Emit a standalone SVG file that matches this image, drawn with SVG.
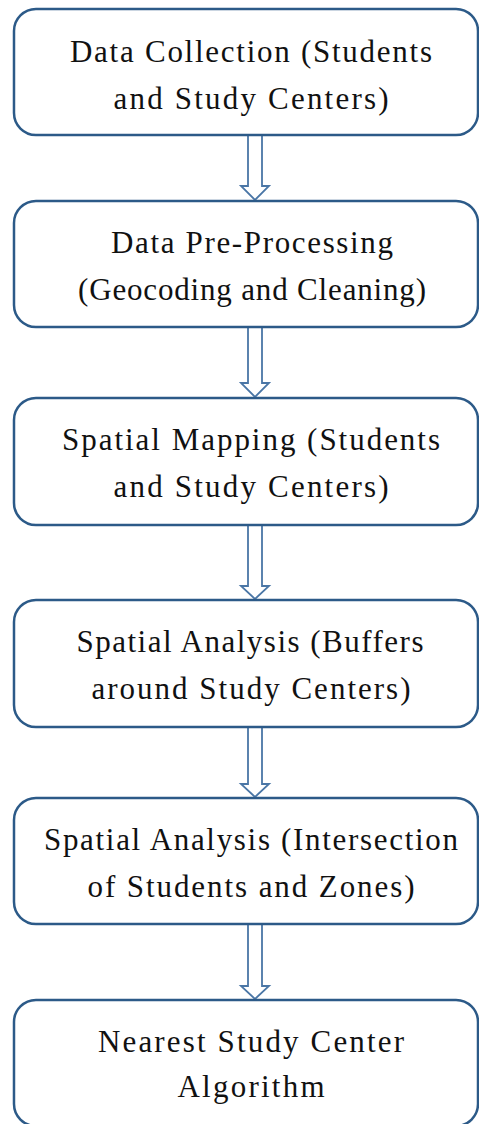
<svg xmlns="http://www.w3.org/2000/svg" width="479" height="1124" viewBox="0 0 479 1124">
<style>
.box{fill:#fff;stroke:#2c5a88;stroke-width:2.5}
.t{font-family:"Liberation Serif","DejaVu Serif",serif;font-size:31px;fill:#111;text-anchor:middle}
.arr{fill:#fff;stroke:#4a76a6;stroke-width:1.8;stroke-linejoin:miter}
</style>
<rect width="479" height="1124" fill="#fff"/>
<g id="connectors">
<path class="arr" d="M248,135 H262 V186 H269 L255,200 L241,186 H248 Z"/>
<path class="arr" d="M248,327 H262 V383 H269 L255,397 L241,383 H248 Z"/>
<path class="arr" d="M248,525 H262 V586 H269 L255,599 L241,586 H248 Z"/>
<path class="arr" d="M248,727 H262 V784 H269 L255,797 L241,784 H248 Z"/>
<path class="arr" d="M248,924 H262 V986 H269 L255,999 L241,986 H248 Z"/>
</g>
<g id="n1"><rect class="box" x="14" y="9" width="464" height="126" rx="22"/>
<text class="t" x="251" y="62" textLength="362" lengthAdjust="spacing">Data Collection (Students</text>
<text class="t" x="251" y="109" textLength="275" lengthAdjust="spacing">and Study Centers)</text></g>
<g id="n2"><rect class="box" x="14" y="201" width="464" height="126" rx="22"/>
<text class="t" x="252" y="253" textLength="282" lengthAdjust="spacing">Data Pre-Processing</text>
<text class="t" x="252" y="300" textLength="348" lengthAdjust="spacing">(Geocoding and Cleaning)</text></g>
<g id="n3"><rect class="box" x="14" y="398" width="464" height="127" rx="22"/>
<text class="t" x="251" y="450" textLength="378" lengthAdjust="spacing">Spatial Mapping (Students</text>
<text class="t" x="251" y="497" textLength="275" lengthAdjust="spacing">and Study Centers)</text></g>
<g id="n4"><rect class="box" x="14" y="600" width="464" height="127" rx="22"/>
<text class="t" x="250" y="652" textLength="347" lengthAdjust="spacing">Spatial Analysis (Buffers</text>
<text class="t" x="251" y="699" textLength="319" lengthAdjust="spacing">around Study Centers)</text></g>
<g id="n5"><rect class="box" x="14" y="798" width="464" height="126" rx="22"/>
<text class="t" x="251" y="850" textLength="414" lengthAdjust="spacing">Spatial Analysis (Intersection</text>
<text class="t" x="251" y="897" textLength="327" lengthAdjust="spacing">of Students and Zones)</text></g>
<g id="n6"><rect class="box" x="14" y="1000" width="464" height="126" rx="22"/>
<text class="t" x="251" y="1052" textLength="306" lengthAdjust="spacing">Nearest Study Center</text>
<text class="t" x="251" y="1097" textLength="147" lengthAdjust="spacing">Algorithm</text></g>
</svg>
